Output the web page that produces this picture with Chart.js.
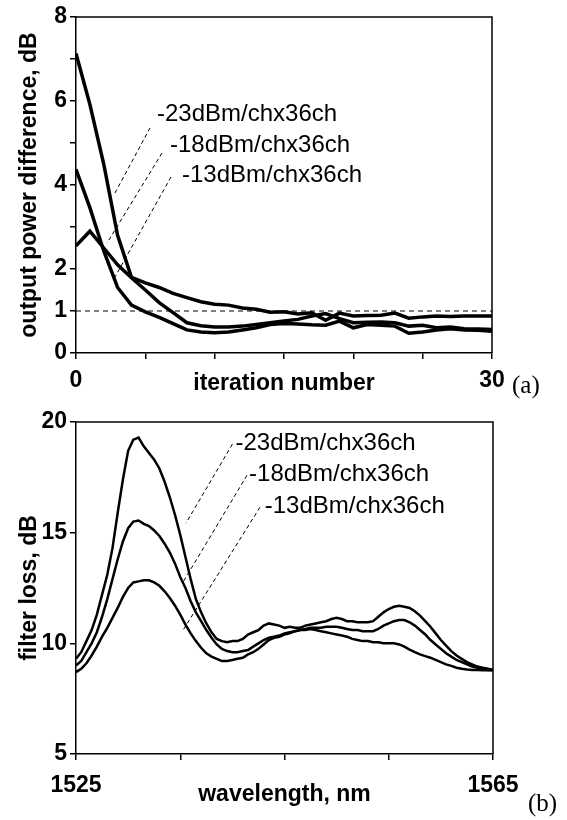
<!DOCTYPE html>
<html>
<head>
<meta charset="utf-8">
<script src="https://cdn.jsdelivr.net/npm/chart.js@4.4.1/dist/chart.umd.min.js"></script>
<style>
  body { margin: 0; background: #fff; }
  .panel { position: relative; width: 567px; }
  .tag { position: absolute; font-family: "Liberation Serif", "Times New Roman", serif; font-size: 25px; color: #000; }
</style>
</head>
<body>
<div class="panel" style="height:400px">
  <canvas id="iterChart" width="567" height="400"></canvas>
  <div class="tag" style="left:512px; top:371px">(a)</div>
</div>
<div class="panel" style="height:420px">
  <canvas id="lossChart" width="567" height="420"></canvas>
  <div class="tag" style="left:528px; top:389px">(b)</div>
</div>
<script>
// panel (a): output power difference vs iteration
const iterations = [0, 1, 2, 3, 4, 5, 6, 7, 8, 9, 10, 11, 12, 13, 14, 15,
    16, 17, 18, 19, 20, 21, 22, 23, 24, 25, 26, 27, 28, 29, 30];
const diff_23 = [7.13, 5.92, 4.5, 2.8, 1.8, 1.67, 1.56, 1.42, 1.32, 1.22, 1.16, 1.14, 1.07, 1.04, 0.97, 0.98,
    0.93, 0.96, 0.78, 0.95, 0.88, 0.89, 0.9, 0.95, 0.83, 0.86, 0.88, 0.87, 0.88, 0.88, 0.88];
const diff_18 = [4.37, 3.46, 2.43, 1.56, 1.14, 0.98, 0.85, 0.7, 0.55, 0.5, 0.48, 0.5, 0.55, 0.6, 0.68, 0.7,
    0.69, 0.67, 0.66, 0.76, 0.6, 0.68, 0.66, 0.64, 0.47, 0.5, 0.55, 0.58, 0.55, 0.54, 0.52];
const diff_13 = [2.55, 2.9, 2.5, 2.1, 1.79, 1.5, 1.2, 0.96, 0.72, 0.65, 0.62, 0.62, 0.64, 0.68, 0.72, 0.76,
    0.8, 0.88, 0.94, 0.82, 0.72, 0.73, 0.74, 0.72, 0.64, 0.66, 0.6, 0.62, 0.58, 0.57, 0.56];
const targetLevel = 1;
const iterYLabels = [0, 1, 2, 4, 6, 8];

// panel (b): filter loss vs wavelength
const wavelengths = [1525, 1525.5, 1526, 1526.5, 1527, 1527.5, 1528, 1528.5, 1529, 1529.5,
    1530, 1530.5, 1531, 1531.5, 1532, 1532.5, 1533, 1533.5, 1534, 1534.5,
    1535, 1535.5, 1536, 1536.5, 1537, 1537.5, 1538, 1538.5, 1539, 1539.5,
    1540, 1540.5, 1541, 1541.5, 1542, 1542.5, 1543, 1543.5, 1544, 1544.5,
    1545, 1545.5, 1546, 1546.5, 1547, 1547.5, 1548, 1548.5, 1549, 1549.5,
    1550, 1550.5, 1551, 1551.5, 1552, 1552.5, 1553, 1553.5, 1554, 1554.5,
    1555, 1555.5, 1556, 1556.5, 1557, 1557.5, 1558, 1558.5, 1559, 1559.5,
    1560, 1560.5, 1561, 1561.5, 1562, 1562.5, 1563, 1563.5, 1564, 1564.5, 1565];
const loss_23 = [9.3, 9.6, 10.1, 10.6, 11.3, 12.2, 13.1, 14.3, 15.9, 17.4,
    18.7, 19.2, 19.3, 18.9, 18.6, 18.3, 17.9, 17.3, 16.6, 15.8,
    14.9, 13.9, 12.9, 12.0, 11.4, 10.9, 10.5, 10.2, 10.1, 10.05,
    10.1, 10.1, 10.2, 10.4, 10.5, 10.6, 10.8, 10.9, 10.85, 10.8,
    10.7, 10.75, 10.7, 10.7, 10.8, 10.85, 10.9, 10.95, 11.0, 11.1,
    11.15, 11.1, 11.0, 11.0, 10.95, 10.95, 10.95, 11.0, 11.2, 11.4,
    11.55, 11.65, 11.7, 11.65, 11.6, 11.45, 11.25, 11.0, 10.75, 10.45,
    10.15, 9.9, 9.65, 9.45, 9.3, 9.15, 9.05, 8.95, 8.9, 8.85, 8.8];
const loss_18 = [9.0, 9.2, 9.6, 10.0, 10.5, 11.2, 12.0, 12.9, 13.8, 14.6,
    15.2, 15.5, 15.55, 15.4, 15.3, 15.1, 14.85, 14.5, 14.1, 13.6,
    13.0, 12.5, 11.9, 11.4, 11.0, 10.6, 10.25, 9.95, 9.75, 9.65,
    9.6, 9.6, 9.65, 9.7, 9.85, 10.0, 10.15, 10.25, 10.3, 10.35,
    10.45, 10.5, 10.55, 10.6, 10.65, 10.7, 10.7, 10.7, 10.75, 10.75,
    10.75, 10.7, 10.65, 10.6, 10.6, 10.55, 10.55, 10.55, 10.65, 10.8,
    10.9, 11.0, 11.05, 11.05, 10.95, 10.8, 10.6, 10.4, 10.15, 9.95,
    9.75, 9.55, 9.4, 9.25, 9.15, 9.05, 8.95, 8.9, 8.85, 8.8, 8.8];
const loss_13 = [8.7, 8.85, 9.1, 9.45, 9.85, 10.3, 10.7, 11.15, 11.6, 12.1,
    12.5, 12.75, 12.8, 12.85, 12.85, 12.75, 12.6, 12.35, 12.05, 11.7,
    11.3, 10.85, 10.45, 10.1, 9.8, 9.55, 9.4, 9.3, 9.2, 9.2,
    9.25, 9.3, 9.35, 9.5, 9.6, 9.75, 9.95, 10.15, 10.25, 10.3,
    10.4, 10.45, 10.55, 10.6, 10.6, 10.65, 10.6, 10.55, 10.5, 10.45,
    10.4, 10.35, 10.3, 10.2, 10.15, 10.1, 10.1, 10.05, 10.05, 10.0,
    10.0, 10.0, 9.95, 9.85, 9.72, 9.6, 9.5, 9.42, 9.35, 9.25,
    9.15, 9.05, 8.98, 8.9, 8.85, 8.82, 8.8, 8.8, 8.78, 8.78, 8.78];

const seriesNames = ['-23dBm/chx36ch', '-18dBm/chx36ch', '-13dBm/chx36ch'];

Chart.defaults.font.family = '"Liberation Sans", Arial, sans-serif';
Chart.defaults.color = '#000';
Chart.defaults.animation = false;

function toPoints(xs, ys) {
    return xs.map((x, i) => ({ x: x, y: ys[i] }));
}

// closes the plot box (top and right edges)
const framePlugin = {
    id: 'frame',
    beforeDatasetsDraw(chart) {
        const { ctx, chartArea: a } = chart;
        ctx.save();
        ctx.strokeStyle = '#000';
        ctx.lineWidth = 1.5;
        ctx.beginPath();
        ctx.moveTo(a.left, a.top);
        ctx.lineTo(a.right, a.top);
        ctx.lineTo(a.right, a.bottom);
        ctx.stroke();
        ctx.restore();
    }
};

// dashed leader lines and their labels
const leaderPlugin = {
    id: 'leaders',
    afterDatasetsDraw(chart, args, opts) {
        const { ctx, scales: { x, y } } = chart;
        ctx.save();
        ctx.strokeStyle = '#000';
        ctx.lineWidth = 1;
        ctx.setLineDash([4, 3]);
        opts.items.forEach(it => {
            ctx.beginPath();
            ctx.moveTo(x.getPixelForValue(it.from[0]), y.getPixelForValue(it.from[1]));
            ctx.lineTo(x.getPixelForValue(it.to[0]), y.getPixelForValue(it.to[1]));
            ctx.stroke();
        });
        ctx.setLineDash([]);
        ctx.fillStyle = '#000';
        ctx.font = '24px "Liberation Sans", Arial, sans-serif';
        ctx.textBaseline = 'middle';
        opts.items.forEach(it => {
            ctx.fillText(it.text, x.getPixelForValue(it.at[0]), y.getPixelForValue(it.at[1]));
        });
        ctx.restore();
    }
};

const boldFont = { size: 23, weight: 'bold' };
const axisGrid = { drawOnChartArea: false, drawTicks: true, tickLength: 6, color: '#000', lineWidth: 1.5 };
const axisBorder = { display: true, color: '#000', width: 1.5 };

function blackLine(label, data, width) {
    return {
        label: label,
        data: data,
        borderColor: '#000',
        borderWidth: width,
        pointRadius: 0,
        tension: 0,
        fill: false
    };
}

const config_iter = {
    type: 'line',
    data: {
        datasets: [
            blackLine(seriesNames[0], toPoints(iterations, diff_23), 3.5),
            blackLine(seriesNames[1], toPoints(iterations, diff_18), 3.5),
            blackLine(seriesNames[2], toPoints(iterations, diff_13), 3.5),
            {
                label: 'target',
                data: toPoints([0, 30], [targetLevel, targetLevel]),
                borderColor: '#000',
                borderWidth: 1,
                borderDash: [5, 4],
                pointRadius: 0
            }
        ]
    },
    options: {
        responsive: false,
        devicePixelRatio: 1,
        layout: { padding: { left: 0, right: 75, top: 17, bottom: 0 } },
        scales: {
            x: {
                type: 'linear',
                min: 0,
                max: 30,
                afterFit: s => { s.height = 47; },
                grid: axisGrid,
                border: axisBorder,
                ticks: {
                    stepSize: 5,
                    autoSkip: false,
                    maxRotation: 0,
                    padding: 8,
                    font: boldFont,
                    callback: v => (v === 0 || v === 30) ? String(v) : ''
                },
                title: { display: true, text: 'iteration number', font: boldFont, padding: { top: 0, bottom: 3 } }
            },
            y: {
                min: 0,
                max: 8,
                afterFit: s => { s.width = 76; },
                grid: axisGrid,
                border: axisBorder,
                ticks: {
                    stepSize: 1,
                    autoSkip: false,
                    padding: 3,
                    font: boldFont,
                    callback: v => iterYLabels.includes(v) ? String(v) : ''
                },
                title: { display: true, text: 'output power difference, dB', font: boldFont, padding: { top: 16, bottom: 0 } }
            }
        },
        plugins: {
            legend: { display: false },
            tooltip: { enabled: false },
            leaders: {
                items: [
                    { text: seriesNames[0], at: [5.84, 5.67], from: [5.34, 5.36], to: [2.81, 3.81] },
                    { text: seriesNames[1], at: [6.78, 4.95], from: [6.2, 4.76], to: [2.24, 2.62] },
                    { text: seriesNames[2], at: [7.64, 4.24], from: [6.85, 4.19], to: [2.81, 1.81] }
                ]
            }
        }
    },
    plugins: [framePlugin, leaderPlugin]
};

const config_loss = {
    type: 'line',
    data: {
        datasets: [
            blackLine(seriesNames[0], toPoints(wavelengths, loss_23), 2.5),
            blackLine(seriesNames[1], toPoints(wavelengths, loss_18), 2.5),
            blackLine(seriesNames[2], toPoints(wavelengths, loss_13), 2.5)
        ]
    },
    options: {
        responsive: false,
        devicePixelRatio: 1,
        layout: { padding: { left: 0, right: 74, top: 22, bottom: 0 } },
        scales: {
            x: {
                type: 'linear',
                min: 1525,
                max: 1565,
                afterFit: s => { s.height = 66; },
                grid: axisGrid,
                border: axisBorder,
                ticks: {
                    stepSize: 10,
                    autoSkip: false,
                    maxRotation: 0,
                    padding: 12,
                    font: boldFont,
                    callback: v => (v === 1525 || v === 1565) ? String(v) : ''
                },
                title: { display: true, text: 'wavelength, nm', font: boldFont, padding: { top: 0, bottom: 12 } }
            },
            y: {
                min: 5,
                max: 20,
                afterFit: s => { s.width = 76; },
                grid: axisGrid,
                border: axisBorder,
                ticks: { stepSize: 5, padding: 3, font: boldFont },
                title: { display: true, text: 'filter loss, dB', font: boldFont, padding: { top: 16, bottom: 0 } }
            }
        },
        plugins: {
            legend: { display: false },
            tooltip: { enabled: false },
            leaders: {
                items: [
                    { text: seriesNames[0], at: [1540.3, 19.04], from: [1540.0, 19.0], to: [1535.55, 15.43] },
                    { text: seriesNames[1], at: [1541.6, 17.64], from: [1541.4, 17.59], to: [1535.26, 12.76] },
                    { text: seriesNames[2], at: [1543.1, 16.19], from: [1542.65, 16.15], to: [1535.26, 10.59] }
                ]
            }
        }
    },
    plugins: [framePlugin, leaderPlugin]
};

const myChart_iter = new Chart(document.getElementById('iterChart'), config_iter);
const myChart_loss = new Chart(document.getElementById('lossChart'), config_loss);
</script>
</body>
</html>
